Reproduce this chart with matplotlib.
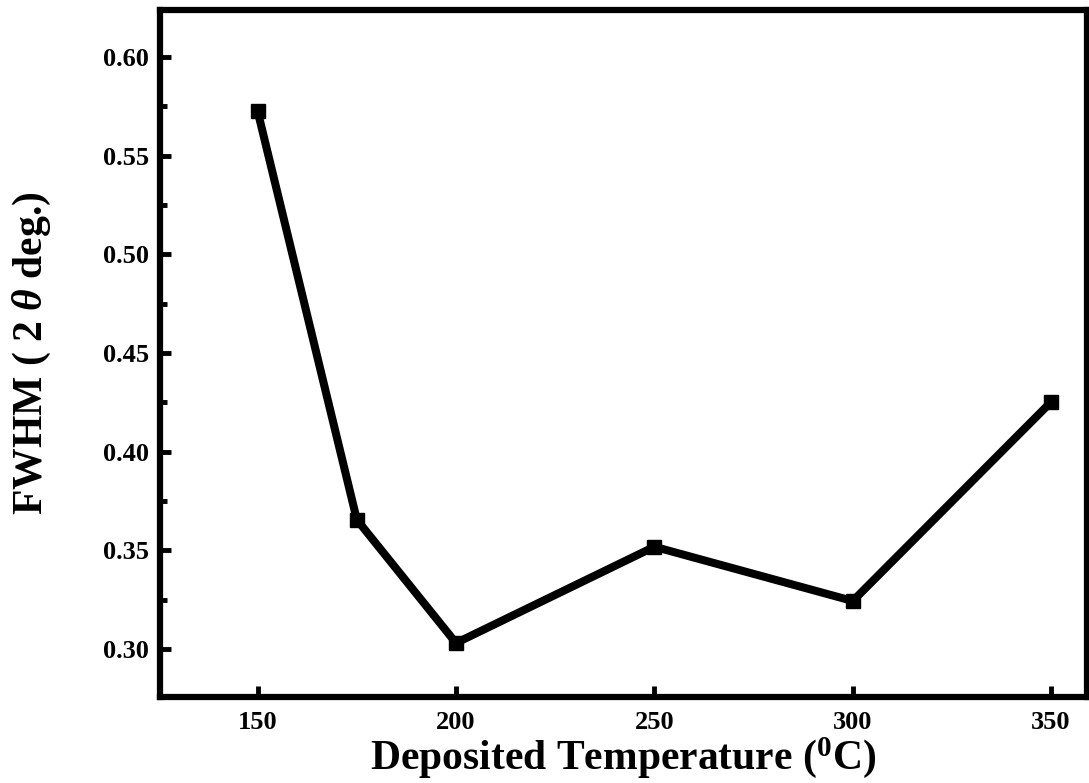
import matplotlib

matplotlib.use("Agg")
import matplotlib.pyplot as plt
from matplotlib.ticker import MultipleLocator

temps = [150, 175, 200, 250, 300, 350]
fwhm = [0.5725, 0.3655, 0.303, 0.3518, 0.3243, 0.4252]

x_ticks = [150, 200, 250, 300, 350]
y_ticks = [0.30, 0.35, 0.40, 0.45, 0.50, 0.55, 0.60]

plt.rcParams["font.family"] = "Liberation Serif"
plt.rcParams["font.weight"] = "bold"
plt.rcParams["mathtext.fontset"] = "custom"
plt.rcParams["mathtext.rm"] = "Liberation Serif:bold"
plt.rcParams["mathtext.it"] = "Liberation Serif:italic:bold"

fig = plt.figure(figsize=(10.89, 7.83), dpi=100)
ax = fig.add_axes([0.147, 0.11, 0.851, 0.877])

ax.plot(temps, fwhm, color="black", lw=5.8, marker="s", ms=10.5,
        solid_joinstyle="miter")

ax.set_xlim(125.4, 359)
ax.set_ylim(0.2757, 0.6238)
ax.set_xticks(x_ticks)
ax.set_yticks(y_ticks)
ax.set_yticklabels([f"{v:.2f}" for v in y_ticks])
ax.yaxis.set_minor_locator(MultipleLocator(0.025))

for s in ax.spines.values():
    s.set_linewidth(4.5)
ax.tick_params(which="both", direction="in", width=3.5, labelsize=19)
ax.tick_params(which="major", length=8, pad=8)
ax.tick_params(axis="x", which="major", pad=10)
ax.tick_params(which="minor", length=5)
for lab in ax.get_xticklabels() + ax.get_yticklabels():
    lab.set_fontweight("bold")

ax.set_xlabel(r"Deposited Temperature ($^{\mathrm{0}}$C)", fontsize=30,
              fontweight="bold", labelpad=1)
ax.set_ylabel(r"FWHM ( 2 $\theta$ deg.)", fontsize=30, fontweight="bold",
              labelpad=36)

fig.savefig("out.png", dpi=100)
